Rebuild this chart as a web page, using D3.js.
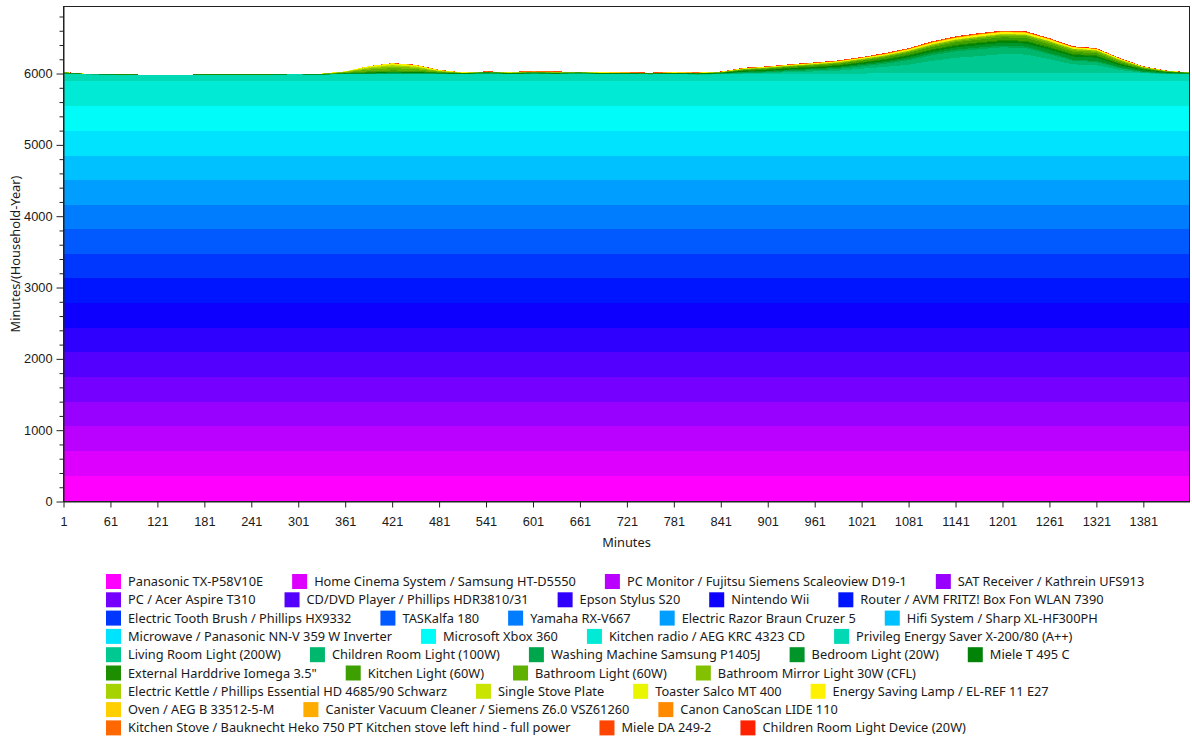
<!DOCTYPE html>
<html>
<head>
<meta charset="utf-8">
<script src="https://cdn.jsdelivr.net/npm/d3@7"></script>
<style>
  html, body { margin: 0; padding: 0; background: #fff; }
  svg { display: block; font-family: "Segoe UI", "Noto Sans", "Open Sans", sans-serif; }
</style>
</head>
<body>
<div id="chart"></div>
<script>
// Sample grid (minute of day), one point every 30 minutes
const minutes = [1, 31, 61, 91, 121, 151, 181, 211, 241, 271, 301, 331, 361, 391, 421, 451, 481, 511, 541, 571,
  601, 631, 661, 691, 721, 751, 781, 811, 841, 871, 901, 931, 961, 991, 1021, 1051, 1081, 1111, 1141, 1171,
  1201, 1231, 1261, 1291, 1321, 1351, 1381, 1411, 1440];

const xTicks = [1, 61, 121, 181, 241, 301, 361, 421, 481, 541, 601, 661, 721, 781, 841, 901, 961, 1021, 1081, 1141, 1201, 1261, 1321, 1381];
const yMajorTicks = [0, 1000, 2000, 3000, 4000, 5000, 6000];
const yMinorTicks = [200, 400, 600, 800, 1200, 1400, 1600, 1800, 2200, 2400, 2600, 2800, 3200, 3400, 3600, 3800,
  4200, 4400, 4600, 4800, 5200, 5400, 5600, 5800, 6200, 6400, 6600, 6800];

const seriesNames = [
  "Panasonic TX-P58V10E", "Home Cinema System / Samsung HT-D5550", "PC Monitor / Fujitsu Siemens Scaleoview D19-1",
  "SAT Receiver / Kathrein UFS913", "PC / Acer Aspire T310", "CD/DVD Player / Phillips HDR3810/31", "Epson Stylus S20",
  "Nintendo Wii", "Router / AVM FRITZ! Box Fon WLAN 7390", "Electric Tooth Brush / Phillips HX9332", "TASKalfa 180",
  "Yamaha RX-V667", "Electric Razor Braun Cruzer 5", "Hifi System / Sharp XL-HF300PH",
  "Microwave / Panasonic NN-V 359 W Inverter", "Microsoft Xbox 360", "Kitchen radio / AEG KRC 4323 CD",
  "Privileg Energy Saver X-200/80 (A++)", "Living Room Light (200W)", "Children Room Light (100W)",
  "Washing Machine Samsung P1405J", "Bedroom Light (20W)", "Miele T 495 C", "External Harddrive Iomega 3.5\"",
  "Kitchen Light (60W)", "Bathroom Light (60W)", "Bathroom Mirror Light 30W (CFL)",
  "Electric Kettle / Phillips Essential HD 4685/90 Schwarz", "Single Stove Plate", "Toaster Salco MT 400",
  "Energy Saving Lamp / EL-REF 11 E27", "Oven / AEG B 33512-5-M", "Canister Vacuum Cleaner / Siemens Z6.0 VSZ61260",
  "Canon CanoScan LIDE 110", "Kitchen Stove / Bauknecht Heko 750 PT Kitchen stove left hind - full power",
  "Miele DA 249-2", "Children Room Light Device (20W)"
];

// Devices that sit flat all day (minutes per household-year, same at every minute)
const standbyMinutes = [364, 350, 350, 336, 342, 350, 344, 346, 350, 340, 342, 346, 354, 326, 350, 350, 350];

// Devices whose use changes through the day (one value per sample minute)
const privileg = [104, 96, 95, 94, 88, 92, 95, 96, 94, 96, 97, 94, 100, 102, 104, 103, 102, 100, 109, 101, 104, 103, 106, 103, 101, 96, 100, 94, 98,
  104, 105, 106, 106, 108, 110, 112, 114, 116, 118, 118, 118, 118, 117, 116, 115, 114, 112, 106, 104];
const livingRoomLight = [2, 1, 0, 0, 0, 0, 0, 0, 0, 0, 0, 0, 0, 0, 0, 0, 0, 0, 0, 0, 0, 0, 0, 0, 0, 1, 1, 2, 3,
  7, 11, 25, 33, 42, 68, 92, 120, 172, 212, 237, 265, 258, 193, 123, 112, 47, 6, 1, 0];
const childrenRoomLight = [3, 1, 0, 0, 0, 0, 0, 0, 0, 0, 0, 0, 2, 3, 4, 3, 2, 1, 1, 1, 1, 1, 1, 1, 1, 2, 2, 3, 4,
  8, 10, 14, 18, 24, 32, 42, 62, 78, 90, 95, 95, 90, 70, 50, 45, 25, 12, 3, 2];
const washingMachine = [0, 0, 0, 0, 0, 0, 0, 0, 0, 0, 0, 1, 2, 4, 6, 8, 6, 4, 5, 5, 6, 5, 5, 4, 4, 4, 4, 4, 5,
  12, 13, 14, 15, 16, 18, 20, 22, 24, 25, 25, 24, 22, 20, 16, 14, 10, 6, 3, 2];
const bedroomLight = [10, 4, 2, 1, 0, 0, 0, 0, 0, 1, 2, 4, 6, 10, 12, 8, 3, 1, 1, 1, 1, 1, 1, 1, 1, 1, 1, 1, 2,
  6, 8, 10, 12, 14, 16, 18, 22, 26, 30, 34, 38, 42, 44, 45, 46, 30, 20, 10, 6];
const mieleDryer = [0, 0, 0, 0, 0, 0, 0, 0, 0, 0, 0, 0, 1, 3, 5, 6, 5, 5, 6, 6, 7, 7, 6, 5, 5, 5, 6, 6, 6,
  10, 12, 13, 14, 15, 16, 18, 20, 22, 24, 26, 26, 26, 25, 22, 20, 14, 8, 4, 2];
const externalHdd = [4, 3, 3, 3, 2, 3, 3, 3, 3, 3, 3, 3, 4, 4, 5, 5, 5, 4, 4, 4, 4, 4, 4, 4, 4, 4, 4, 4, 4,
  7, 8, 8, 9, 9, 10, 10, 11, 12, 13, 14, 14, 14, 13, 12, 12, 10, 8, 6, 4];
const kitchenLight = [2, 0, 0, 0, 0, 0, 0, 0, 0, 0, 0, 1, 4, 14, 18, 14, 5, 2, 2, 3, 3, 2, 2, 1, 1, 1, 1, 2, 3,
  8, 12, 14, 16, 18, 20, 24, 28, 32, 34, 36, 38, 38, 35, 30, 28, 18, 10, 3, 1];
const bathroomLight = [3, 1, 0, 0, 0, 0, 0, 0, 0, 1, 1, 3, 8, 24, 32, 25, 8, 2, 1, 1, 1, 1, 1, 1, 1, 1, 1, 1, 2,
  6, 7, 8, 9, 10, 11, 12, 14, 16, 18, 20, 22, 24, 24, 22, 22, 18, 8, 4, 2];
const mirrorLight = [2, 0, 0, 0, 0, 0, 0, 0, 0, 0, 0, 2, 5, 16, 22, 18, 5, 1, 1, 1, 1, 1, 1, 1, 1, 1, 1, 1, 1,
  4, 5, 6, 6, 7, 8, 9, 10, 12, 13, 14, 15, 16, 16, 15, 15, 12, 5, 3, 1];
const kettle = [0, 0, 0, 0, 0, 0, 0, 0, 0, 0, 0, 1, 3, 12, 16, 14, 4, 2, 1, 1, 2, 1, 1, 1, 1, 1, 1, 1, 2,
  3, 3, 3, 4, 4, 4, 5, 5, 6, 6, 7, 7, 6, 6, 5, 5, 4, 3, 2, 1];
const stovePlate = [0, 0, 0, 0, 0, 0, 0, 0, 0, 0, 0, 0, 2, 5, 7, 6, 4, 1, 1, 1, 2, 2, 2, 1, 1, 1, 1, 1, 1,
  3, 3, 3, 4, 4, 4, 5, 5, 6, 6, 6, 6, 5, 5, 4, 4, 3, 2, 1, 1];
const toaster = [0, 0, 0, 0, 0, 0, 0, 0, 0, 0, 0, 0, 2, 8, 10, 8, 4, 1, 1, 1, 1, 1, 1, 1, 1, 1, 1, 1, 1,
  1, 1, 1, 1, 1, 1, 1, 1, 2, 2, 2, 2, 2, 2, 1, 1, 1, 1, 0, 0];
const savingLamp = [2, 1, 0, 0, 0, 0, 0, 0, 0, 0, 0, 1, 3, 8, 12, 10, 4, 1, 1, 1, 1, 1, 1, 1, 1, 1, 1, 1, 2,
  4, 5, 6, 7, 8, 9, 10, 12, 14, 16, 18, 19, 20, 18, 16, 15, 12, 5, 3, 1];
const oven = [0, 0, 0, 0, 0, 0, 0, 0, 0, 0, 0, 0, 0, 0, 0, 0, 0, 0, 1, 1, 2, 2, 1, 1, 1, 1, 1, 1, 1,
  1, 1, 2, 2, 3, 3, 4, 5, 6, 6, 6, 5, 4, 3, 2, 2, 1, 1, 0, 0];
const vacuum = [0, 0, 0, 0, 0, 0, 0, 0, 0, 0, 0, 0, 0, 1, 1, 2, 2, 1, 2, 2, 2, 2, 1, 1, 1, 1, 1, 1, 1,
  1, 1, 1, 1, 1, 1, 1, 1, 1, 1, 1, 1, 1, 1, 0, 0, 0, 0, 0, 0];
const scanner = [0, 0, 0, 0, 0, 0, 0, 0, 0, 0, 0, 0, 0, 0, 0, 0, 1, 0, 0, 1, 1, 1, 0, 0, 0, 0, 0, 0, 0,
  1, 1, 1, 1, 1, 1, 1, 1, 1, 1, 1, 1, 1, 1, 1, 0, 0, 0, 0, 0];
const kitchenStove = [0, 0, 0, 0, 0, 0, 0, 0, 0, 0, 0, 0, 0, 1, 2, 2, 2, 1, 2, 3, 4, 3, 2, 1, 1, 1, 1, 1, 1,
  3, 3, 3, 4, 4, 5, 6, 7, 8, 8, 8, 7, 6, 5, 4, 3, 2, 1, 0, 0];
const dishwasher = [0, 0, 0, 0, 0, 0, 0, 0, 0, 0, 0, 0, 0, 0, 0, 1, 1, 0, 1, 1, 1, 1, 1, 1, 1, 1, 1, 1, 1,
  2, 2, 3, 3, 3, 3, 4, 4, 5, 5, 5, 5, 5, 5, 4, 4, 3, 2, 1, 1];
const childrenDevice = [1, 0, 0, 0, 0, 0, 0, 0, 0, 0, 0, 0, 0, 0, 1, 1, 0, 0, 0, 0, 0, 0, 0, 0, 0, 0, 0, 1, 1,
  1, 1, 1, 2, 2, 2, 3, 3, 3, 4, 4, 4, 4, 4, 4, 4, 3, 2, 2, 1];

const varyingSeries = [privileg, livingRoomLight, childrenRoomLight, washingMachine, bedroomLight, mieleDryer,
  externalHdd, kitchenLight, bathroomLight, mirrorLight, kettle, stovePlate, toaster, savingLamp, oven, vacuum,
  scanner, kitchenStove, dishwasher, childrenDevice];

// legend items per row, as laid out in the original
const legendRows = [4, 5, 5, 4, 5, 4, 4, 3, 3];

const width = 1192;
const height = 740;
const plot = { left: 63.5, right: 1189.5, top: 6.5, bottom: 501.5 };

// rainbow palette: magenta -> blue -> cyan -> green -> yellow -> red
const paletteStops = ["#ff00ff", "#0000ff", "#00ffff", "#008000", "#ffff00", "#ff0000"];
const palette = d3.scaleLinear().domain([0, 1, 2, 3, 4, 5]).range(paletteStops).interpolate(d3.interpolateRgb);
const colorOf = (i) => palette(i / 37 * 5);

// build table rows keyed by series name
const allSeries = standbyMinutes.map(v => minutes.map(() => v)).concat(varyingSeries);
const table = minutes.map((m, k) => {
  const row = { minute: m };
  seriesNames.forEach((name, i) => { row[name] = allSeries[i][k]; });
  return row;
});

const stacked = d3.stack().keys(seriesNames)(table);

const x = d3.scaleLinear().domain([1, 1440]).range([plot.left, plot.right]);
const y = d3.scaleLinear().domain([0, 6940]).range([plot.bottom, plot.top]);

const svg = d3.select("#chart").append("svg")
  .attr("width", width)
  .attr("height", height);

const area = d3.area()
  .x(d => x(d.data.minute))
  .y0(d => y(d[0]))
  .y1(d => y(d[1]));

svg.append("g")
  .attr("shape-rendering", "crispEdges")
  .selectAll("path")
  .data(stacked)
  .join("path")
  .attr("d", area)
  .attr("fill", (d, i) => colorOf(i));

// frame
svg.append("rect")
  .attr("x", plot.left)
  .attr("y", plot.top)
  .attr("width", plot.right - plot.left)
  .attr("height", plot.bottom - plot.top)
  .attr("fill", "none")
  .attr("stroke", "#222")
  .attr("stroke-width", 1);

const fontSize = 12.8;

// y axis
svg.append("g")
  .attr("transform", `translate(${plot.left},0)`)
  .call(d3.axisLeft(y).tickValues(yMajorTicks).tickSize(7).tickSizeOuter(0).tickPadding(4).tickFormat(d3.format("d")));
svg.append("g")
  .attr("transform", `translate(${plot.left},0)`)
  .call(d3.axisLeft(y).tickValues(yMinorTicks).tickSize(4).tickFormat(""))
  .call(g => g.select(".domain").remove());

// x axis
svg.append("g")
  .attr("transform", `translate(0,${plot.bottom})`)
  .call(d3.axisBottom(x).tickValues(xTicks).tickSize(6).tickSizeOuter(0).tickPadding(9).tickFormat(d3.format("d")));

svg.selectAll(".tick line").attr("stroke", "#222");
svg.selectAll(".domain").attr("stroke", "#222");
svg.selectAll(".tick text")
  .attr("font-size", fontSize)
  .attr("font-family", null)
  .attr("fill", "#1a1a1a");

// axis titles
svg.append("text")
  .attr("transform", `translate(15,${(plot.top + plot.bottom) / 2}) rotate(-90)`)
  .attr("text-anchor", "middle")
  .attr("dominant-baseline", "central")
  .attr("font-size", fontSize)
  .attr("fill", "#1a1a1a")
  .text("Minutes/(Household-Year)");

svg.append("text")
  .attr("x", (plot.left + plot.right) / 2)
  .attr("y", 542)
  .attr("text-anchor", "middle")
  .attr("dominant-baseline", "central")
  .attr("font-size", fontSize)
  .attr("fill", "#1a1a1a")
  .text("Minutes");

// legend
const legend = svg.append("g");
let idx = 0;
legendRows.forEach((count, r) => {
  const rowY = 581 + r * 18.3;
  let cx = 106;
  for (let c = 0; c < count; c++, idx++) {
    const i = idx;
    legend.append("rect")
      .attr("x", cx)
      .attr("y", rowY - 7)
      .attr("width", 15)
      .attr("height", 15)
      .attr("fill", colorOf(i));
    const t = legend.append("text")
      .attr("x", cx + 22)
      .attr("y", rowY)
      .attr("dominant-baseline", "central")
      .attr("font-size", fontSize)
      .attr("fill", "#1a1a1a")
      .text(seriesNames[i]);
    cx += 22 + t.node().getComputedTextLength() + 29;
  }
});
</script>
</body>
</html>
